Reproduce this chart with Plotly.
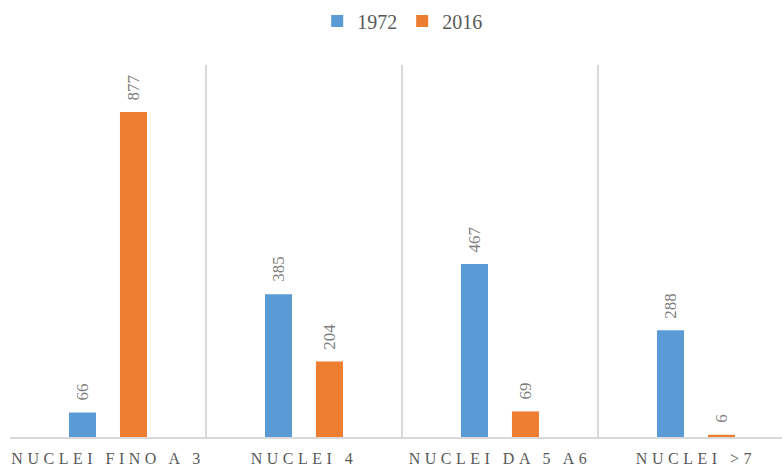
import plotly.graph_objects as go

categories = ["NUCLEI FINO A 3", "NUCLEI 4", "NUCLEI DA 5 A6", "NUCLEI >7"]
values_1972 = [66, 385, 467, 288]
values_2016 = [877, 204, 69, 6]
series_names = ["1972", "2016"]

colors = ["#5b9bd5", "#ed7d31"]
text_color = "#595959"
label_color = "#7f7f7f"
font_family = "Liberation Serif, DejaVu Serif, serif"

bargap = 0.48
bargroupgap = 0.47
slot = (1 - bargap) / 2  # width of each trace's slot within a category

fig = go.Figure()
for i, (name, vals, col) in enumerate(zip(series_names, [values_1972, values_2016], colors)):
    fig.add_trace(go.Bar(
        name=name,
        x=categories,
        y=vals,
        marker=dict(color=col, line=dict(width=0)),
    ))
    # rotated value labels sitting a little above each bar
    shift = (i - 0.5) * slot
    for k, v in enumerate(vals):
        fig.add_annotation(
            x=k + shift, y=v, xref="x", yref="y",
            text=str(v), textangle=-90,
            showarrow=False, xanchor="center", yanchor="bottom", yshift=10,
            font=dict(family=font_family, size=17, color=label_color),
        )

tick_text = ['<span style="letter-spacing:4.5px">%s</span>' % c for c in categories]

fig.update_layout(
    width=782,
    height=468,
    margin=dict(l=10, r=0, t=65, b=31, autoexpand=False),
    paper_bgcolor="white",
    plot_bgcolor="white",
    barmode="group",
    bargap=bargap,
    bargroupgap=bargroupgap,
    showlegend=True,
    legend=dict(
        orientation="h",
        x=0.508, xanchor="center",
        y=0.997, yref="container", yanchor="top",
        font=dict(family=font_family, size=20, color=text_color),
        itemwidth=30,
    ),
    font=dict(family=font_family, color=text_color),
)

fig.update_xaxes(
    type="category",
    range=[-0.5, 3.439],
    tickson="boundaries",
    tickmode="array",
    tickvals=categories,
    ticktext=tick_text,
    tickangle=0,
    automargin=False,
    ticklabelstandoff=6,
    showgrid=True,
    gridcolor="#d9d9d9",
    gridwidth=1.5,
    showline=True,
    linecolor="#d9d9d9",
    linewidth=1.5,
    ticks="",
    tickfont=dict(family=font_family, size=16, color=text_color),
    fixedrange=True,
)
fig.update_yaxes(
    range=[0, 1004],
    showgrid=False,
    zeroline=False,
    showticklabels=False,
    showline=False,
    fixedrange=True,
)

fig.write_html("out.html")
